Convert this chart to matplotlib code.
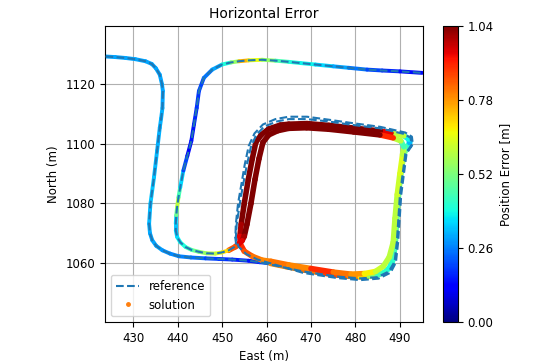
import numpy as np
import matplotlib
matplotlib.use('Agg')
import matplotlib.pyplot as plt
from matplotlib.collections import LineCollection
from matplotlib.lines import Line2D

# solution track: east (m), north (m), position error (m)
entry_e = [423.8, 426.0, 428.3, 430.5, 432.8, 434.2, 435.1, 436.0, 436.5, 436.7, 436.6, 436.3, 436.0,
           435.4, 434.7, 433.9, 433.6, 433.8, 434.3, 435.2, 436.6, 438.3, 440.3, 443.0, 446.3, 449.3,
           452.3, 456.0, 458.5]
entry_n = [1129.3, 1129.1, 1128.8, 1128.4, 1127.7, 1126.8, 1125.4, 1123.2, 1120.0, 1117.7, 1112.0, 1108.5,
           1105.4, 1097.7, 1088.8, 1079.9, 1073.2, 1070.0, 1067.7, 1065.8, 1064.3, 1063.2, 1062.3, 1061.9,
           1061.6, 1061.4, 1061.2, 1060.8, 1060.3]
entry_err = [0.30, 0.30, 0.30, 0.30, 0.30, 0.30, 0.30, 0.30, 0.30, 0.30, 0.31, 0.31, 0.31, 0.32, 0.33,
             0.32, 0.31, 0.30, 0.30, 0.30, 0.28, 0.27, 0.26, 0.24, 0.20, 0.18, 0.16, 0.15, 0.20]

lap1_e = [460.9, 464.5, 468.3, 472.0, 475.9, 478.5, 481.1, 483.2, 484.9, 486.4, 487.5, 488.2, 488.6, 489.0,
          489.3, 489.7, 490.2, 490.9, 491.6, 492.2, 492.0, 490.9, 488.0, 485.6, 479.6, 474.0, 469.1, 465.0,
          463.1, 460.5, 458.8, 457.6, 456.8, 455.9, 455.0, 454.3, 454.0, 454.1, 455.0, 456.8, 459.0]
lap1_n = [1059.9, 1058.8, 1057.7, 1056.8, 1056.0, 1055.6, 1055.4, 1055.6, 1056.0, 1056.8, 1058.2, 1060.0,
          1062.1, 1067.7, 1075.0, 1083.2, 1090.0, 1096.6, 1098.8, 1100.4, 1101.6, 1102.7, 1103.6, 1104.3,
          1105.3, 1106.2, 1106.8, 1106.6, 1106.3, 1105.0, 1103.0, 1100.5, 1095.0, 1088.0, 1080.0, 1073.0,
          1069.0, 1066.5, 1064.0, 1062.3, 1061.0]
lap1_err = [0.80, 0.80, 0.82, 0.88, 0.86, 0.80, 0.68, 0.55, 0.45, 0.42, 0.40, 0.42, 0.45, 0.48, 0.50, 0.52,
            0.55, 0.50, 0.42, 0.32, 0.38, 0.60, 0.95, 1.04, 1.04, 1.04, 1.04, 1.04, 1.04, 1.04, 1.04, 1.04,
            1.04, 1.04, 1.04, 1.00, 0.95, 0.90, 0.85, 0.82, 0.80]

lap2_e = [461.0, 465.0, 470.0, 475.0, 479.0, 482.0, 484.5, 486.3, 487.6, 488.5, 488.9, 489.4, 490.0, 490.6,
          490.9, 490.2, 488.5, 485.5, 479.6, 474.0, 469.0, 465.0, 462.5, 460.5, 459.2, 458.3, 457.4, 456.5,
          455.6, 455.0, 454.5, 453.0]
lap2_n = [1060.6, 1059.4, 1058.2, 1057.0, 1056.3, 1056.5, 1057.2, 1059.0, 1062.0, 1067.0, 1075.0, 1083.0,
          1090.0, 1096.5, 1099.0, 1101.0, 1102.0, 1103.0, 1104.0, 1104.9, 1105.4, 1105.2, 1104.4, 1103.0,
          1100.5, 1095.0, 1088.0, 1080.0, 1073.0, 1069.0, 1067.5, 1065.5]
lap2_err = [0.82, 0.80, 0.90, 0.82, 0.78, 0.68, 0.62, 0.60, 0.60, 0.60, 0.60, 0.62, 0.64, 0.60, 0.45, 0.60,
            0.90, 1.04, 1.04, 1.04, 1.04, 1.04, 1.04, 1.04, 1.04, 1.04, 1.04, 1.04, 1.04, 1.00, 0.95, 0.85]

exit_e = [451.5, 450.0, 448.5, 446.5, 444.8, 443.2, 441.8, 440.6, 439.9, 439.6, 439.6, 439.7, 439.9, 440.2,
          440.6, 441.3, 442.2, 443.1, 443.7, 444.3, 444.8, 445.9, 447.8, 450.0, 452.0, 453.8, 456.0, 459.0,
          462.0, 465.0, 467.6, 471.0, 475.0, 478.5, 482.6, 486.0, 490.0, 495.0]
exit_n = [1064.3, 1063.6, 1063.2, 1063.3, 1063.8, 1064.4, 1065.4, 1067.0, 1068.8, 1071.0, 1073.2, 1076.0,
          1078.8, 1082.0, 1085.4, 1091.0, 1096.0, 1101.0, 1106.6, 1112.0, 1117.7, 1122.1, 1124.9, 1126.6,
          1127.3, 1127.7, 1128.0, 1128.2, 1127.9, 1127.5, 1127.1, 1126.6, 1126.0, 1125.5, 1124.9, 1124.6,
          1124.3, 1123.8]
exit_err = [0.70, 0.65, 0.60, 0.55, 0.50, 0.45, 0.40, 0.38, 0.35, 0.33, 0.35, 0.50, 0.60, 0.45, 0.35, 0.20,
            0.13, 0.15, 0.17, 0.18, 0.20, 0.25, 0.30, 0.40, 0.55, 0.75, 0.65, 0.55, 0.45, 0.40, 0.38, 0.35,
            0.30, 0.25, 0.20, 0.17, 0.14, 0.12]

# reference around the loop sits a little outside the solution
ref_loop_e = [460.9, 468.3, 475.9, 481.1, 484.9, 487.5, 488.8, 489.3, 490.0, 491.2, 492.6, 492.4, 491.0,
              485.6, 479.6, 474.0, 469.1, 465.0, 462.3, 459.5, 457.7, 456.5, 455.6, 454.7, 454.0, 453.3,
              453.1, 453.7, 455.5, 458.0, 461.0, 468.3, 475.9, 481.1, 485.2, 487.9, 489.1, 489.6, 490.3,
              491.5, 492.9, 492.7, 491.2, 485.6, 479.6, 474.0, 469.1, 465.0, 462.0, 459.2, 457.3, 456.0,
              455.1, 454.3, 453.6, 453.1, 453.0, 453.2]
ref_loop_n = [1059.5, 1057.2, 1055.5, 1054.9, 1055.3, 1057.2, 1060.5, 1067.0, 1083.0, 1096.6, 1099.6,
              1102.0, 1103.3, 1105.2, 1106.3, 1107.5, 1108.3, 1108.3, 1107.5, 1105.8, 1103.0, 1099.0,
              1093.0, 1086.0, 1080.0, 1073.0, 1068.5, 1065.5, 1063.0, 1061.2, 1059.9, 1056.7, 1055.0,
              1054.3, 1054.8, 1056.8, 1060.2, 1067.0, 1083.0, 1096.8, 1099.8, 1102.4, 1103.8, 1105.7,
              1106.9, 1108.1, 1109.1, 1109.1, 1108.3, 1106.5, 1103.5, 1099.3, 1093.0, 1086.0, 1080.0,
              1073.0, 1068.5, 1065.8]

plt.rcParams['font.size'] = 8.5

fig = plt.figure(figsize=(5.53, 3.62), dpi=100)
ax = fig.add_axes([0.190, 0.110, 0.575, 0.818])
cax = fig.add_axes([0.801, 0.110, 0.027, 0.818])

cmap = plt.get_cmap('jet')
norm = plt.Normalize(0, 1.04)

# reference: dashed
ax.plot(entry_e + ref_loop_e + exit_e, entry_n + ref_loop_n + exit_n, '--', color='C0', lw=1.5, zorder=3)

# solution: one continuous track coloured by error
sol_e = np.array(entry_e + lap1_e + lap2_e + exit_e)
sol_n = np.array(entry_n + lap1_n + lap2_n + exit_n)
sol_err = np.array(entry_err + lap1_err + lap2_err + exit_err)
widths = np.array([2.8] * len(entry_e) + [4.0] * (len(lap1_e) + len(lap2_e)) + [2.8] * len(exit_e))
pts = np.column_stack([sol_e, sol_n]).reshape(-1, 1, 2)
segs = np.concatenate([pts[:-1], pts[1:]], axis=1)
lc = LineCollection(segs, cmap=cmap, norm=norm, linewidths=widths[:-1], capstyle='round', zorder=2)
lc.set_array(sol_err[:-1])
ax.add_collection(lc)

ax.set_xlim(423.7, 495.2)
ax.set_ylim(1040.2, 1139.5)
ax.set_xticks([430, 440, 450, 460, 470, 480, 490])
ax.set_yticks([1060, 1080, 1100, 1120])
ax.grid(True, color='#b0b0b0', lw=0.8)
ax.set_axisbelow(True)
ax.set_xlabel('East (m)')
ax.set_ylabel('North (m)')
ax.set_title('Horizontal Error', fontsize=10)

handles = [Line2D([], [], ls='--', color='C0', lw=1.5),
           Line2D([], [], ls='', marker='o', ms=2.5, color='C1')]
ax.legend(handles, ['reference', 'solution'], loc='lower left')

sm = plt.cm.ScalarMappable(cmap=cmap, norm=norm)
cb = fig.colorbar(sm, cax=cax, ticks=[0, 0.26, 0.52, 0.78, 1.04], format='%.2f')
cb.set_label('Position Error [m]')

fig.savefig('out.png', dpi=100)
